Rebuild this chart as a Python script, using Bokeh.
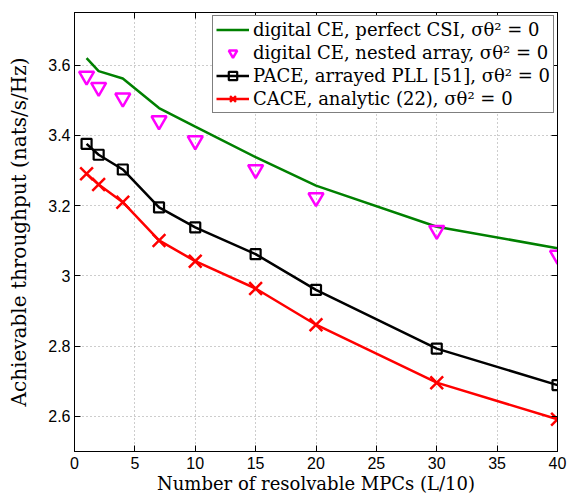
from bokeh.plotting import figure
from bokeh.models import (FixedTicker, LinearAxis, Legend, LegendItem, Range1d)
from bokeh.embed import file_html
from bokeh.resources import INLINE

# ---- data ----
L = [1, 2, 4, 7, 10, 15, 20, 30, 40]
perfect_csi = [3.620, 3.583, 3.562, 3.478, 3.425, 3.338, 3.257, 3.140, 3.079]
nested_array = [3.569, 3.537, 3.507, 3.442, 3.385, 3.303, 3.223, 3.130, 3.059]
pace_pll = [3.376, 3.345, 3.303, 3.195, 3.138, 3.062, 2.960, 2.793, 2.689]
cace_analytic = [3.291, 3.260, 3.210, 3.101, 3.042, 2.964, 2.861, 2.696, 2.592]

x_ticks = [0, 5, 10, 15, 20, 25, 30, 35, 40]
y_ticks = [2.6, 2.8, 3.0, 3.2, 3.4, 3.6]
y_tick_labels = ["2.6", "2.8", "3", "3.2", "3.4", "3.6"]

labels = [
    "digital CE, perfect CSI, σθ² = 0",
    "digital CE, nested array, σθ² = 0",
    "PACE, arrayed PLL [51], σθ² = 0",
    "CACE, analytic (22), σθ² = 0",
]

SERIF = "DejaVu Serif"
SANS = "Liberation Sans"

p = figure(width=567, height=496, output_backend="svg", toolbar_location=None,
           x_range=Range1d(0, 40), y_range=Range1d(2.5, 3.75),
           min_border_left=74, min_border_right=10, min_border_top=12,
           min_border_bottom=44)
p.background_fill_color = "white"
p.border_fill_color = "white"
p.outline_line_color = "black"
p.outline_line_width = 1

# axes
for ax in (p.xaxis[0], p.yaxis[0]):
    ax.major_tick_in = 6
    ax.major_tick_out = 0
    ax.minor_tick_line_color = None
    ax.axis_line_color = "black"
    ax.major_label_text_font = SANS
    ax.major_label_text_font_size = "16px"
    ax.major_label_text_color = "black"
    ax.axis_label_text_font = SERIF
    ax.axis_label_text_font_style = "normal"
    ax.axis_label_text_color = "black"

p.xaxis.ticker = FixedTicker(ticks=x_ticks)
p.yaxis.ticker = FixedTicker(ticks=y_ticks)
p.yaxis.major_label_overrides = {t: s for t, s in zip(y_ticks, y_tick_labels)}
p.xaxis.axis_label = "Number of resolvable MPCs (L/10)"
p.yaxis.axis_label = "Achievable throughput (nats/s/Hz)"
p.xaxis.axis_label_text_font_size = "18px"
p.yaxis.axis_label_text_font_size = "20px"
p.xaxis.major_label_standoff = 5
p.xaxis.axis_label_standoff = 1
p.yaxis.major_label_standoff = 4
p.yaxis.axis_label_standoff = 14

for loc, ticks in (("right", y_ticks), ("above", x_ticks)):
    ax = LinearAxis(ticker=FixedTicker(ticks=ticks))
    ax.major_tick_in = 6
    ax.major_tick_out = 0
    ax.minor_tick_line_color = None
    ax.major_label_overrides = {t: "" for t in ticks}
    ax.major_label_standoff = 0
    ax.axis_line_color = "black"
    p.add_layout(ax, loc)

p.xgrid.ticker = FixedTicker(ticks=x_ticks)
p.ygrid.ticker = FixedTicker(ticks=y_ticks)
for g in (p.xgrid[0], p.ygrid[0]):
    g.grid_line_color = "#9a9a9a"
    g.grid_line_dash = "1 3"
    g.grid_line_width = 1

green = "#008000"
magenta = "#ff00ff"
red = "#ff0000"

r_green = p.line(L, perfect_csi, line_color=green, line_width=2.5)
r_mag = p.scatter(L, nested_array, marker="inverted_triangle", size=15,
                  line_color=magenta, line_width=2.5, fill_color=None)
r_black_l = p.line(L, pace_pll, line_color="black", line_width=2.5)
r_black_m = p.scatter(L, pace_pll, marker="square", size=10, line_color="black",
                      line_width=2.2, fill_color=None)
r_red_l = p.line(L, cace_analytic, line_color=red, line_width=2.5)
r_red_m = p.scatter(L, cace_analytic, marker="x", size=18, line_color=red,
                    line_width=2.5)

legend = Legend(items=[
    LegendItem(label=labels[0], renderers=[r_green]),
    LegendItem(label=labels[1], renderers=[r_mag]),
    LegendItem(label=labels[2], renderers=[r_black_l, r_black_m]),
    LegendItem(label=labels[3], renderers=[r_red_l, r_red_m]),
], location="top_right")
legend.label_text_font = SERIF
legend.label_text_font_size = "18px"
legend.label_text_color = "black"
legend.glyph_width = 33
legend.glyph_height = 21
legend.label_height = 21
legend.label_standoff = 4
legend.spacing = 2
legend.padding = 3
legend.margin = 3
legend.border_line_color = "black"
legend.border_line_width = 1
legend.background_fill_alpha = 1
p.add_layout(legend)

open("out.html", "w").write(file_html(p, INLINE))
